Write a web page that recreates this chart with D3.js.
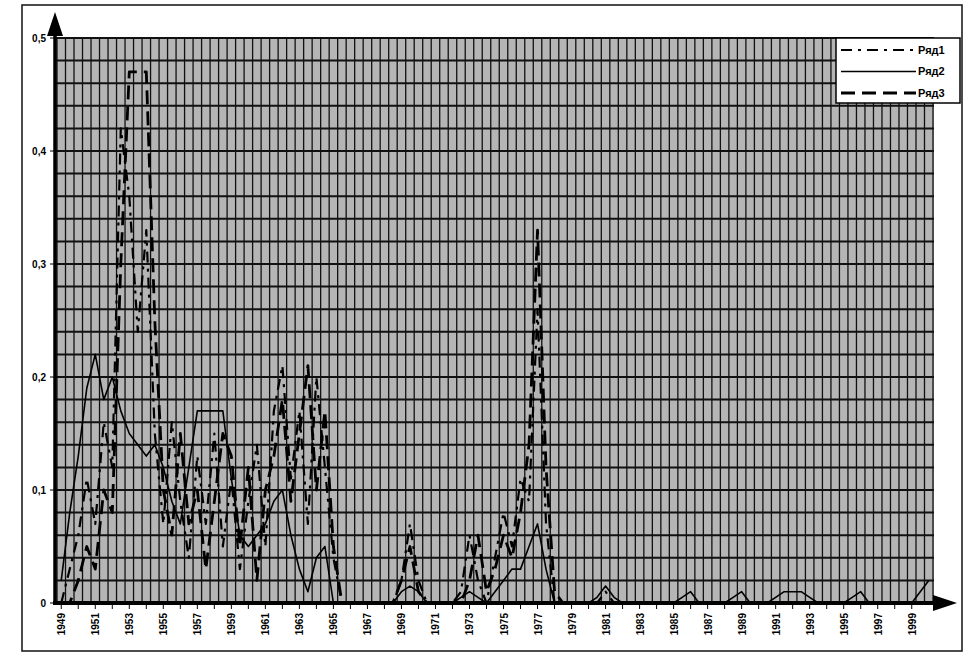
<!DOCTYPE html>
<html>
<head>
<meta charset="utf-8">
<script src="https://cdn.jsdelivr.net/npm/d3@7"></script>
<style>
    body { margin: 0; background: #fff; }
    #chart { width: 966px; height: 657px; }
</style>
</head>
<body>
<div id="chart"></div>
<script>
// years on the category axis, two points per year (last year only one)
var years = [1949, 1950, 1951, 1952, 1953, 1954, 1955, 1956, 1957, 1958,
    1959, 1960, 1961, 1962, 1963, 1964, 1965, 1966, 1967, 1968,
    1969, 1970, 1971, 1972, 1973, 1974, 1975, 1976, 1977, 1978,
    1979, 1980, 1981, 1982, 1983, 1984, 1985, 1986, 1987, 1988,
    1989, 1990, 1991, 1992, 1993, 1994, 1995, 1996, 1997, 1998,
    1999, 2000];

var xTickLabels = ["1949", "1951", "1953", "1955", "1957", "1959", "1961", "1963", "1965",
    "1967", "1969", "1971", "1973", "1975", "1977", "1979", "1981", "1983", "1985",
    "1987", "1989", "1991", "1993", "1995", "1997", "1999"];
var yTicks = [0, 0.1, 0.2, 0.3, 0.4, 0.5];
var yTickLabels = ["0", "0,1", "0,2", "0,3", "0,4", "0,5"];
var seriesNames = ["Ряд1", "Ряд2", "Ряд3"];

// values per half-year, one row per year
var ryad1 = [
    0.00, 0.03,  0.06, 0.11,  0.07, 0.16,  0.12, 0.42,  0.36, 0.24,
    0.33, 0.15,  0.07, 0.16,  0.09, 0.04,  0.13, 0.07,  0.15, 0.05,
    0.11, 0.03,  0.09, 0.14,  0.05, 0.17,  0.21, 0.11,  0.17, 0.07,
    0.20, 0.12,  0.04, 0.00,  0.00, 0.00,  0.00, 0.00,  0.00, 0.00,
    0.02, 0.07,  0.02, 0.00,  0.00, 0.00,  0.00, 0.01,  0.06, 0.02,
    0.00, 0.04,  0.08, 0.05,  0.11, 0.09,  0.26, 0.07,  0.00, 0.00,
    0.00, 0.00,  0.00, 0.00,  0.01, 0.00,  0.00, 0.00,  0.00, 0.00,
    0.00, 0.00,  0.00, 0.00,  0.00, 0.00,  0.00, 0.00,  0.00, 0.00,
    0.00, 0.00,  0.00, 0.00,  0.00, 0.00,  0.00, 0.00,  0.00, 0.00,
    0.00, 0.00,  0.00, 0.00,  0.00, 0.00,  0.00, 0.00,  0.00, 0.00,
    0.00, 0.00,  0.00];

var ryad2 = [
    0.02, 0.08,  0.13, 0.19,  0.22, 0.18,  0.20, 0.17,  0.15, 0.14,
    0.13, 0.14,  0.12, 0.09,  0.07, 0.12,  0.17, 0.17,  0.17, 0.17,
    0.11, 0.06,  0.05, 0.06,  0.07, 0.09,  0.10, 0.06,  0.03, 0.01,
    0.04, 0.05,  0.00, 0.00,  0.00, 0.00,  0.00, 0.00,  0.00, 0.00,
    0.01, 0.015, 0.01, 0.00,  0.00, 0.00,  0.00, 0.005, 0.01, 0.005,
    0.00, 0.01,  0.02, 0.03,  0.03, 0.05,  0.07, 0.03,  0.00, 0.00,
    0.00, 0.00,  0.00, 0.005, 0.015, 0.005, 0.00, 0.00, 0.00, 0.00,
    0.00, 0.00,  0.00, 0.005, 0.01, 0.00,  0.00, 0.00,  0.00, 0.005,
    0.01, 0.00,  0.00, 0.00,  0.005, 0.01, 0.01, 0.01,  0.005, 0.00,
    0.00, 0.00,  0.00, 0.005, 0.01, 0.00,  0.00, 0.00,  0.00, 0.00,
    0.00, 0.01,  0.02];

var ryad3 = [
    0.00, 0.00,  0.02, 0.05,  0.03, 0.10,  0.08, 0.30,  0.47, 0.47,
    0.47, 0.25,  0.10, 0.06,  0.15, 0.07,  0.10, 0.03,  0.09, 0.15,
    0.13, 0.05,  0.12, 0.02,  0.10, 0.13,  0.18, 0.09,  0.15, 0.21,
    0.10, 0.17,  0.05, 0.00,  0.00, 0.00,  0.00, 0.00,  0.00, 0.00,
    0.02, 0.05,  0.01, 0.00,  0.00, 0.00,  0.00, 0.00,  0.02, 0.06,
    0.01, 0.03,  0.06, 0.04,  0.08, 0.14,  0.33, 0.12,  0.01, 0.00,
    0.00, 0.00,  0.00, 0.00,  0.00, 0.00,  0.00, 0.00,  0.00, 0.00,
    0.00, 0.00,  0.00, 0.00,  0.00, 0.00,  0.00, 0.00,  0.00, 0.00,
    0.00, 0.00,  0.00, 0.00,  0.00, 0.00,  0.00, 0.00,  0.00, 0.00,
    0.00, 0.00,  0.00, 0.00,  0.00, 0.00,  0.00, 0.00,  0.00, 0.00,
    0.00, 0.00,  0.00];

// half-year categories built from the year list
var periods = [];
years.forEach(function (y, i) {
    periods.push(y + "");
    if (i < years.length - 1) periods.push(y + ".5");
});

var width = 966, height = 657;
var plot = { left: 55, right: 934, top: 38, bottom: 603 };

var svg = d3.select("#chart")
    .append("svg")
    .attr("width", width)
    .attr("height", height);

// outer chart frame
svg.append("rect")
    .attr("x", 22).attr("y", 5)
    .attr("width", 940).attr("height", 646)
    .attr("fill", "#fff")
    .attr("stroke", "#111")
    .attr("stroke-width", 1.5);

var x = d3.scaleBand()
    .domain(periods)
    .range([57, 933]);
var y = d3.scaleLinear()
    .domain([0, 0.5])
    .range([plot.bottom, plot.top]);

// grey plot area
svg.append("rect")
    .attr("x", plot.left).attr("y", plot.top)
    .attr("width", plot.right - plot.left)
    .attr("height", plot.bottom - plot.top)
    .attr("fill", "#b5b5b5");

// vertical gridlines at category borders
var vLines = periods.map(function (p) { return x(p); }).concat([x.range()[1]]);
svg.append("g")
    .selectAll("line")
    .data(vLines)
    .join("line")
    .attr("x1", d => d).attr("x2", d => d)
    .attr("y1", plot.top).attr("y2", plot.bottom)
    .attr("stroke", "#111")
    .attr("stroke-width", 1.3);

// horizontal gridlines every 0.02
svg.append("g")
    .selectAll("line")
    .data(y.ticks(25))
    .join("line")
    .attr("x1", plot.left).attr("x2", plot.right)
    .attr("y1", d => y(d)).attr("y2", d => y(d))
    .attr("stroke", "#111")
    .attr("stroke-width", 2);

// series
var series = [
    { name: seriesNames[0], values: ryad1, dash: "11,6,3,6", w: 2.2 },
    { name: seriesNames[1], values: ryad2, dash: null, w: 1.6 },
    { name: seriesNames[2], values: ryad3, dash: "14,7", w: 2.8 }
];

var line = d3.line()
    .x(function (d, i) { return x(periods[i]) + x.bandwidth() / 2; })
    .y(function (d) { return y(d); });

svg.append("g")
    .selectAll("path")
    .data(series)
    .join("path")
    .attr("d", d => line(d.values))
    .attr("fill", "none")
    .attr("stroke", "#000")
    .attr("stroke-width", d => d.w)
    .attr("stroke-dasharray", d => d.dash)
    .attr("stroke-linejoin", "round");

// axes with arrows
svg.append("line")
    .attr("x1", plot.left).attr("x2", plot.left)
    .attr("y1", plot.bottom + 2).attr("y2", 30)
    .attr("stroke", "#000").attr("stroke-width", 3.5);
svg.append("path")
    .attr("d", "M" + plot.left + ",12 L" + (plot.left - 8) + ",36 L" + (plot.left + 8) + ",36 Z")
    .attr("fill", "#000");
svg.append("line")
    .attr("x1", plot.left - 2).attr("x2", 940)
    .attr("y1", plot.bottom).attr("y2", plot.bottom)
    .attr("stroke", "#000").attr("stroke-width", 4);
svg.append("path")
    .attr("d", "M957," + plot.bottom + " L933," + (plot.bottom - 8) + " L933," + (plot.bottom + 8) + " Z")
    .attr("fill", "#000");

// y ticks and labels
var yAxis = svg.append("g")
    .attr("font-family", "'Liberation Sans', Arial, sans-serif")
    .attr("font-weight", "bold")
    .attr("font-size", 10);
yAxis.selectAll("line")
    .data(yTicks)
    .join("line")
    .attr("x1", plot.left - 5).attr("x2", plot.left)
    .attr("y1", d => y(d)).attr("y2", d => y(d))
    .attr("stroke", "#000").attr("stroke-width", 1);
yAxis.selectAll("text")
    .data(yTicks)
    .join("text")
    .attr("x", plot.left - 9)
    .attr("y", d => y(d))
    .attr("dy", "0.35em")
    .attr("text-anchor", "end")
    .text((d, i) => yTickLabels[i]);

// x ticks (every year) and labels (every second year)
var xAxis = svg.append("g")
    .attr("font-family", "'Liberation Sans', Arial, sans-serif")
    .attr("font-weight", "bold")
    .attr("font-size", 10);
xAxis.selectAll("line")
    .data(years.slice(0, -1))
    .join("line")
    .attr("x1", d => x(d + "") + x.bandwidth() / 2)
    .attr("x2", d => x(d + "") + x.bandwidth() / 2)
    .attr("y1", plot.bottom).attr("y2", plot.bottom + 6)
    .attr("stroke", "#000").attr("stroke-width", 1);
xAxis.selectAll("text")
    .data(xTickLabels)
    .join("text")
    .attr("transform", d => "translate(" + (x(d) + x.bandwidth() / 2 + 4) + "," + (plot.bottom + 10) + ") rotate(-90)")
    .attr("text-anchor", "end")
    .text(d => d);

// legend
var legend = svg.append("g")
    .attr("transform", "translate(836,38)");
legend.append("rect")
    .attr("width", 124).attr("height", 65)
    .attr("fill", "#fff")
    .attr("stroke", "#000")
    .attr("stroke-width", 1.5);
var item = legend.selectAll("g")
    .data(series)
    .join("g")
    .attr("transform", (d, i) => "translate(0," + (12 + i * 21.5) + ")");
item.append("line")
    .attr("x1", 5).attr("x2", 80)
    .attr("stroke", "#000")
    .attr("stroke-width", d => d.w)
    .attr("stroke-dasharray", d => d.dash);
item.append("text")
    .attr("x", 82)
    .attr("dy", "0.35em")
    .attr("font-family", "'Liberation Sans', Arial, sans-serif")
    .attr("font-weight", "bold")
    .attr("font-size", 11)
    .text(d => d.name);
</script>
</body>
</html>
